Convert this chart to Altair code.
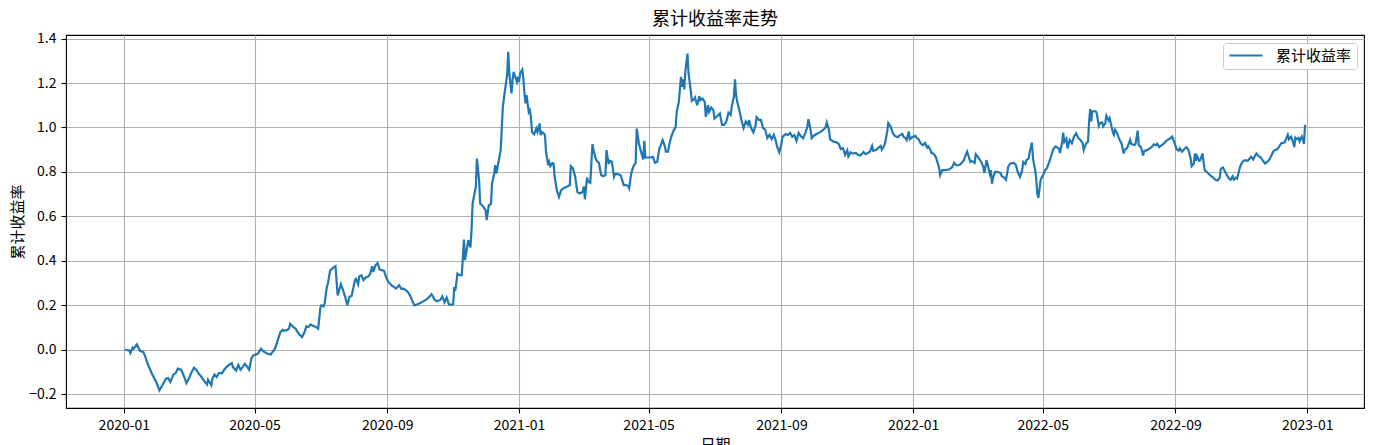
import altair as alt
import pandas as pd

# (date, cumulative return) pairs
points_2020 = [
    ("2020-01-02", 0.000), ("2020-01-06", -0.003), ("2020-01-07", -0.015), ("2020-01-09", 0.009),
    ("2020-01-10", 0.004), ("2020-01-13", 0.024), ("2020-01-16", -0.006), ("2020-01-19", -0.010),
    ("2020-01-21", -0.033), ("2020-01-23", -0.063), ("2020-01-27", -0.108), ("2020-01-31", -0.145),
    ("2020-02-03", -0.183), ("2020-02-06", -0.156), ("2020-02-09", -0.130), ("2020-02-11", -0.127),
    ("2020-02-13", -0.145), ("2020-02-16", -0.111), ("2020-02-18", -0.105), ("2020-02-20", -0.085),
    ("2020-02-23", -0.090), ("2020-02-24", -0.100), ("2020-02-26", -0.123), ("2020-02-28", -0.150),
    ("2020-03-02", -0.123), ("2020-03-03", -0.108), ("2020-03-06", -0.081), ("2020-03-08", -0.090),
    ("2020-03-10", -0.105), ("2020-03-13", -0.123), ("2020-03-15", -0.138), ("2020-03-18", -0.156),
    ("2020-03-19", -0.135), ("2020-03-22", -0.160), ("2020-03-23", -0.130), ("2020-03-25", -0.111),
    ("2020-03-27", -0.123), ("2020-03-29", -0.105), ("2020-04-01", -0.105), ("2020-04-03", -0.090),
    ("2020-04-05", -0.078), ("2020-04-08", -0.066), ("2020-04-10", -0.060), ("2020-04-11", -0.078),
    ("2020-04-14", -0.093), ("2020-04-16", -0.069), ("2020-04-18", -0.090), ("2020-04-20", -0.078),
    ("2020-04-22", -0.063), ("2020-04-24", -0.075), ("2020-04-26", -0.090), ("2020-04-27", -0.069),
    ("2020-04-28", -0.040), ("2020-04-30", -0.025), ("2020-05-04", -0.018), ("2020-05-07", 0.004),
    ("2020-05-09", -0.006), ("2020-05-13", -0.018), ("2020-05-16", -0.021), ("2020-05-20", 0.005),
    ("2020-05-23", 0.050), ("2020-05-25", 0.080), ("2020-05-27", 0.090), ("2020-05-28", 0.085),
    ("2020-05-31", 0.088), ("2020-06-02", 0.095), ("2020-06-03", 0.117), ("2020-06-06", 0.102),
    ("2020-06-08", 0.095), ("2020-06-11", 0.072), ("2020-06-14", 0.057), ("2020-06-16", 0.075),
    ("2020-06-18", 0.105), ("2020-06-20", 0.102), ("2020-06-22", 0.114), ("2020-06-24", 0.108),
    ("2020-06-27", 0.102), ("2020-06-29", 0.095), ("2020-07-01", 0.190), ("2020-07-02", 0.200),
    ("2020-07-04", 0.195), ("2020-07-05", 0.210), ("2020-07-07", 0.283), ("2020-07-08", 0.298),
    ("2020-07-10", 0.355), ("2020-07-12", 0.365), ("2020-07-13", 0.370), ("2020-07-15", 0.376),
    ("2020-07-17", 0.245), ("2020-07-18", 0.260), ("2020-07-20", 0.295), ("2020-07-22", 0.268),
    ("2020-07-24", 0.238), ("2020-07-26", 0.200), ("2020-07-28", 0.239), ("2020-07-30", 0.242),
    ("2020-08-02", 0.313), ("2020-08-03", 0.319), ("2020-08-05", 0.295), ("2020-08-06", 0.330),
    ("2020-08-08", 0.335), ("2020-08-10", 0.313), ("2020-08-12", 0.325), ("2020-08-14", 0.328),
    ("2020-08-16", 0.340), ("2020-08-18", 0.376), ("2020-08-19", 0.350), ("2020-08-21", 0.380),
    ("2020-08-23", 0.390), ("2020-08-25", 0.360), ("2020-08-27", 0.358), ("2020-08-29", 0.355),
    ("2020-08-31", 0.325), ("2020-09-02", 0.305), ("2020-09-05", 0.290), ("2020-09-07", 0.283),
    ("2020-09-09", 0.275), ("2020-09-12", 0.290), ("2020-09-14", 0.274), ("2020-09-16", 0.275),
    ("2020-09-18", 0.268), ("2020-09-20", 0.260), ("2020-09-22", 0.245), ("2020-09-24", 0.222),
    ("2020-09-26", 0.200), ("2020-09-29", 0.205), ("2020-10-02", 0.211), ("2020-10-05", 0.220),
    ("2020-10-08", 0.229), ("2020-10-10", 0.238), ("2020-10-12", 0.250), ("2020-10-15", 0.224),
    ("2020-10-17", 0.218), ("2020-10-20", 0.224), ("2020-10-22", 0.240), ("2020-10-24", 0.213),
    ("2020-10-26", 0.235), ("2020-10-28", 0.205), ("2020-10-30", 0.202), ("2020-11-01", 0.205),
    ("2020-11-02", 0.283), ("2020-11-03", 0.265), ("2020-11-05", 0.343), ("2020-11-07", 0.336),
    ("2020-11-09", 0.336), ("2020-11-11", 0.496), ("2020-11-12", 0.403), ("2020-11-14", 0.463),
    ("2020-11-15", 0.493), ("2020-11-17", 0.460), ("2020-11-18", 0.538), ("2020-11-19", 0.658),
    ("2020-11-22", 0.733), ("2020-11-23", 0.860), ("2020-11-25", 0.763), ("2020-11-26", 0.658),
    ("2020-11-29", 0.643), ("2020-12-01", 0.628), ("2020-12-02", 0.583), ("2020-12-04", 0.650),
    ("2020-12-06", 0.655), ("2020-12-07", 0.748), ("2020-12-09", 0.793), ("2020-12-10", 0.830),
    ("2020-12-11", 0.793), ("2020-12-13", 0.845), ("2020-12-15", 0.898), ("2020-12-16", 0.996),
    ("2020-12-17", 1.093), ("2020-12-19", 1.168), ("2020-12-21", 1.235), ("2020-12-22", 1.340),
    ("2020-12-23", 1.243), ("2020-12-25", 1.153), ("2020-12-26", 1.213), ("2020-12-27", 1.250),
    ("2020-12-28", 1.235), ("2020-12-30", 1.205), ("2020-12-31", 1.228),
]

points_2021 = [
    ("2021-01-01", 1.205), ("2021-01-02", 1.243), ("2021-01-04", 1.260), ("2021-01-05", 1.220),
    ("2021-01-06", 1.153), ("2021-01-07", 1.108), ("2021-01-08", 1.145), ("2021-01-10", 1.070),
    ("2021-01-11", 1.078), ("2021-01-12", 1.048), ("2021-01-13", 0.980), ("2021-01-15", 0.970),
    ("2021-01-17", 0.996), ("2021-01-18", 0.980), ("2021-01-20", 1.018), ("2021-01-21", 0.966),
    ("2021-01-22", 0.980), ("2021-01-24", 0.973), ("2021-01-25", 0.966), ("2021-01-26", 0.890),
    ("2021-01-28", 0.830), ("2021-01-29", 0.845), ("2021-01-30", 0.826), ("2021-02-01", 0.840),
    ("2021-02-02", 0.838), ("2021-02-03", 0.778), ("2021-02-05", 0.718), ("2021-02-07", 0.688),
    ("2021-02-09", 0.718), ("2021-02-11", 0.726), ("2021-02-14", 0.733), ("2021-02-17", 0.740),
    ("2021-02-18", 0.826), ("2021-02-20", 0.815), ("2021-02-22", 0.778), ("2021-02-24", 0.710),
    ("2021-02-26", 0.703), ("2021-03-01", 0.710), ("2021-03-02", 0.735), ("2021-03-03", 0.677),
    ("2021-03-05", 0.775), ("2021-03-06", 0.756), ("2021-03-08", 0.751), ("2021-03-10", 0.925),
    ("2021-03-11", 0.898), ("2021-03-13", 0.860), ("2021-03-14", 0.850), ("2021-03-16", 0.841),
    ("2021-03-18", 0.786), ("2021-03-20", 0.781), ("2021-03-22", 0.786), ("2021-03-23", 0.898),
    ("2021-03-25", 0.835), ("2021-03-26", 0.850), ("2021-03-28", 0.846), ("2021-03-30", 0.778),
    ("2021-03-31", 0.790), ("2021-04-02", 0.790), ("2021-04-05", 0.786), ("2021-04-06", 0.771),
    ("2021-04-08", 0.741), ("2021-04-10", 0.741), ("2021-04-12", 0.737), ("2021-04-13", 0.726),
    ("2021-04-15", 0.796), ("2021-04-17", 0.826), ("2021-04-19", 0.841), ("2021-04-20", 0.995),
    ("2021-04-22", 0.928), ("2021-04-24", 0.891), ("2021-04-26", 0.856), ("2021-04-27", 0.940),
    ("2021-04-28", 0.865), ("2021-04-30", 0.865), ("2021-05-03", 0.865), ("2021-05-05", 0.868),
    ("2021-05-07", 0.841), ("2021-05-09", 0.846), ("2021-05-11", 0.906), ("2021-05-12", 0.916),
    ("2021-05-14", 0.943), ("2021-05-16", 0.916), ("2021-05-17", 0.891), ("2021-05-19", 0.891),
    ("2021-05-20", 0.921), ("2021-05-22", 0.958), ("2021-05-24", 0.985), ("2021-05-26", 1.000),
    ("2021-05-27", 1.070), ("2021-05-29", 1.115), ("2021-05-31", 1.228), ("2021-06-01", 1.183),
    ("2021-06-02", 1.216), ("2021-06-03", 1.171), ("2021-06-04", 1.250), ("2021-06-06", 1.332),
    ("2021-06-07", 1.243), ("2021-06-09", 1.168), ("2021-06-10", 1.120), ("2021-06-12", 1.126),
    ("2021-06-13", 1.135), ("2021-06-15", 1.100), ("2021-06-17", 1.141), ("2021-06-18", 1.123),
    ("2021-06-20", 1.130), ("2021-06-22", 1.115), ("2021-06-23", 1.048), ("2021-06-25", 1.100),
    ("2021-06-26", 1.070), ("2021-06-28", 1.090), ("2021-06-30", 1.078), ("2021-07-01", 1.040),
    ("2021-07-03", 1.048), ("2021-07-06", 1.063), ("2021-07-08", 1.012), ("2021-07-10", 1.012),
    ("2021-07-12", 1.027), ("2021-07-14", 1.067), ("2021-07-16", 1.057), ("2021-07-17", 1.094),
    ("2021-07-19", 1.139), ("2021-07-20", 1.217), ("2021-07-21", 1.147), ("2021-07-22", 1.117),
    ("2021-07-24", 1.079), ("2021-07-26", 1.034), ("2021-07-28", 0.997), ("2021-07-30", 1.027),
    ("2021-08-01", 1.012), ("2021-08-02", 1.034), ("2021-08-04", 0.997), ("2021-08-06", 0.978),
    ("2021-08-08", 1.007), ("2021-08-09", 1.046), ("2021-08-11", 1.034), ("2021-08-13", 1.034),
    ("2021-08-15", 0.997), ("2021-08-17", 0.990), ("2021-08-19", 0.952), ("2021-08-21", 0.967),
    ("2021-08-23", 0.948), ("2021-08-25", 0.967), ("2021-08-27", 0.937), ("2021-08-28", 0.915),
    ("2021-08-30", 0.888), ("2021-09-01", 0.925), ("2021-09-02", 0.958), ("2021-09-05", 0.970),
    ("2021-09-07", 0.966), ("2021-09-09", 0.976), ("2021-09-11", 0.958), ("2021-09-13", 0.966),
    ("2021-09-15", 0.940), ("2021-09-17", 0.976), ("2021-09-19", 0.961), ("2021-09-21", 0.951),
    ("2021-09-23", 0.973), ("2021-09-25", 1.003), ("2021-09-26", 1.037), ("2021-09-28", 0.990),
    ("2021-09-29", 0.952), ("2021-10-01", 0.963), ("2021-10-04", 0.972), ("2021-10-07", 0.979),
    ("2021-10-10", 0.990), ("2021-10-12", 1.001), ("2021-10-13", 1.022), ("2021-10-15", 0.990),
    ("2021-10-16", 0.948), ("2021-10-19", 0.937), ("2021-10-22", 0.933), ("2021-10-24", 0.927),
    ("2021-10-26", 0.903), ("2021-10-28", 0.907), ("2021-10-30", 0.877), ("2021-11-01", 0.897),
    ("2021-11-02", 0.870), ("2021-11-04", 0.888), ("2021-11-06", 0.882), ("2021-11-09", 0.885),
    ("2021-11-11", 0.877), ("2021-11-13", 0.874), ("2021-11-15", 0.883), ("2021-11-16", 0.890),
    ("2021-11-18", 0.880), ("2021-11-20", 0.885), ("2021-11-22", 0.891), ("2021-11-24", 0.917),
    ("2021-11-25", 0.895), ("2021-11-28", 0.900), ("2021-11-30", 0.909), ("2021-12-02", 0.917),
    ("2021-12-03", 0.900), ("2021-12-05", 0.917), ("2021-12-06", 0.929), ("2021-12-08", 0.982),
    ("2021-12-09", 1.020), ("2021-12-11", 1.005), ("2021-12-13", 0.977), ("2021-12-15", 0.962),
    ("2021-12-18", 0.956), ("2021-12-19", 0.962), ("2021-12-22", 0.971), ("2021-12-23", 0.959),
    ("2021-12-25", 0.952), ("2021-12-26", 0.944), ("2021-12-28", 0.982), ("2021-12-29", 0.947),
    ("2021-12-31", 0.956),
]

points_2022 = [
    ("2022-01-03", 0.962), ("2022-01-04", 0.955), ("2022-01-06", 0.947), ("2022-01-08", 0.929),
    ("2022-01-10", 0.920), ("2022-01-12", 0.930), ("2022-01-14", 0.909), ("2022-01-15", 0.915),
    ("2022-01-17", 0.900), ("2022-01-18", 0.885), ("2022-01-20", 0.882), ("2022-01-22", 0.867),
    ("2022-01-25", 0.820), ("2022-01-26", 0.785), ("2022-01-28", 0.808), ("2022-01-31", 0.808),
    ("2022-02-03", 0.811), ("2022-02-06", 0.820), ("2022-02-08", 0.841), ("2022-02-10", 0.830),
    ("2022-02-12", 0.830), ("2022-02-14", 0.835), ("2022-02-17", 0.853), ("2022-02-18", 0.868),
    ("2022-02-20", 0.891), ("2022-02-21", 0.876), ("2022-02-23", 0.845), ("2022-02-24", 0.850),
    ("2022-02-27", 0.841), ("2022-02-28", 0.880), ("2022-03-02", 0.868), ("2022-03-05", 0.845),
    ("2022-03-07", 0.823), ("2022-03-08", 0.795), ("2022-03-10", 0.853), ("2022-03-11", 0.835),
    ("2022-03-13", 0.792), ("2022-03-14", 0.808), ("2022-03-15", 0.747), ("2022-03-16", 0.774),
    ("2022-03-18", 0.800), ("2022-03-20", 0.800), ("2022-03-23", 0.795), ("2022-03-24", 0.782),
    ("2022-03-26", 0.776), ("2022-03-28", 0.765), ("2022-03-29", 0.792), ("2022-03-30", 0.823),
    ("2022-04-01", 0.838), ("2022-04-04", 0.841), ("2022-04-06", 0.833), ("2022-04-08", 0.798),
    ("2022-04-10", 0.777), ("2022-04-12", 0.808), ("2022-04-13", 0.845), ("2022-04-15", 0.835),
    ("2022-04-16", 0.853), ("2022-04-18", 0.861), ("2022-04-19", 0.891), ("2022-04-21", 0.932),
    ("2022-04-22", 0.861), ("2022-04-24", 0.809), ("2022-04-25", 0.770), ("2022-04-26", 0.702),
    ("2022-04-27", 0.683), ("2022-04-29", 0.762), ("2022-04-30", 0.774), ("2022-05-02", 0.792),
    ("2022-05-03", 0.806), ("2022-05-05", 0.818), ("2022-05-07", 0.844), ("2022-05-09", 0.874),
    ("2022-05-11", 0.905), ("2022-05-13", 0.915), ("2022-05-16", 0.905), ("2022-05-17", 0.885),
    ("2022-05-19", 0.935), ("2022-05-20", 0.977), ("2022-05-21", 0.935), ("2022-05-23", 0.950),
    ("2022-05-24", 0.906), ("2022-05-26", 0.944), ("2022-05-28", 0.929), ("2022-05-30", 0.959),
    ("2022-06-01", 0.974), ("2022-06-03", 0.952), ("2022-06-05", 0.944), ("2022-06-07", 0.929),
    ("2022-06-08", 0.899), ("2022-06-10", 0.926), ("2022-06-11", 0.932), ("2022-06-12", 0.936),
    ("2022-06-13", 1.027), ("2022-06-14", 1.083), ("2022-06-15", 1.027), ("2022-06-16", 1.073),
    ("2022-06-19", 1.073), ("2022-06-20", 1.065), ("2022-06-22", 1.008), ("2022-06-23", 1.020),
    ("2022-06-25", 1.023), ("2022-06-26", 1.005), ("2022-06-28", 1.020), ("2022-06-29", 1.053),
    ("2022-07-01", 1.032), ("2022-07-02", 1.042), ("2022-07-03", 1.020), ("2022-07-05", 0.977),
    ("2022-07-06", 0.967), ("2022-07-07", 0.989), ("2022-07-09", 0.974), ("2022-07-10", 0.959),
    ("2022-07-12", 0.936), ("2022-07-13", 0.929), ("2022-07-15", 0.883), ("2022-07-16", 0.900),
    ("2022-07-18", 0.906), ("2022-07-19", 0.917), ("2022-07-21", 0.944), ("2022-07-22", 0.926),
    ("2022-07-25", 0.921), ("2022-07-26", 0.926), ("2022-07-28", 0.986), ("2022-07-29", 0.920),
    ("2022-07-31", 0.912), ("2022-08-02", 0.874), ("2022-08-03", 0.894), ("2022-08-05", 0.897),
    ("2022-08-08", 0.905), ("2022-08-10", 0.912), ("2022-08-12", 0.924), ("2022-08-14", 0.920),
    ("2022-08-15", 0.927), ("2022-08-17", 0.912), ("2022-08-19", 0.920), ("2022-08-21", 0.927),
    ("2022-08-24", 0.942), ("2022-08-27", 0.950), ("2022-08-29", 0.959), ("2022-08-31", 0.932),
    ("2022-09-02", 0.902), ("2022-09-04", 0.896), ("2022-09-05", 0.906), ("2022-09-07", 0.891),
    ("2022-09-09", 0.902), ("2022-09-11", 0.911), ("2022-09-13", 0.899), ("2022-09-15", 0.861),
    ("2022-09-16", 0.826), ("2022-09-18", 0.838), ("2022-09-19", 0.883), ("2022-09-20", 0.850),
    ("2022-09-21", 0.871), ("2022-09-23", 0.850), ("2022-09-24", 0.853), ("2022-09-26", 0.883),
    ("2022-09-28", 0.808), ("2022-10-01", 0.795), ("2022-10-03", 0.785), ("2022-10-06", 0.774),
    ("2022-10-08", 0.765), ("2022-10-10", 0.762), ("2022-10-12", 0.774), ("2022-10-13", 0.815),
    ("2022-10-15", 0.820), ("2022-10-17", 0.800), ("2022-10-18", 0.792), ("2022-10-20", 0.774),
    ("2022-10-22", 0.765), ("2022-10-24", 0.780), ("2022-10-25", 0.765), ("2022-10-27", 0.774),
    ("2022-10-28", 0.770), ("2022-10-30", 0.808), ("2022-10-31", 0.826), ("2022-11-02", 0.845),
    ("2022-11-04", 0.853), ("2022-11-07", 0.850), ("2022-11-08", 0.856), ("2022-11-10", 0.868),
    ("2022-11-12", 0.856), ("2022-11-14", 0.876), ("2022-11-15", 0.883), ("2022-11-17", 0.871),
    ("2022-11-19", 0.865), ("2022-11-21", 0.850), ("2022-11-23", 0.838), ("2022-11-25", 0.845),
    ("2022-11-27", 0.856), ("2022-11-29", 0.876), ("2022-12-01", 0.895), ("2022-12-04", 0.902),
    ("2022-12-06", 0.914), ("2022-12-08", 0.929), ("2022-12-11", 0.932), ("2022-12-12", 0.944),
    ("2022-12-14", 0.967), ("2022-12-15", 0.947), ("2022-12-17", 0.959), ("2022-12-19", 0.932),
    ("2022-12-20", 0.912), ("2022-12-21", 0.953), ("2022-12-22", 0.947), ("2022-12-24", 0.953),
    ("2022-12-25", 0.938), ("2022-12-27", 0.959), ("2022-12-28", 0.947), ("2022-12-29", 0.926),
    ("2022-12-30", 1.012),
]

series_name = "累计收益率"
tick_months = [(2020, 1), (2020, 5), (2020, 9), (2021, 1), (2021, 5), (2021, 9),
               (2022, 1), (2022, 5), (2022, 9), (2023, 1)]
y_ticks = [-0.2, 0.0, 0.2, 0.4, 0.6, 0.8, 1.0, 1.2, 1.4]

rows = points_2020 + points_2021 + points_2022
df = pd.DataFrame(rows, columns=["date", "value"])
df["series"] = series_name

FONT = "Noto Sans CJK SC"

x_domain = [alt.DateTime(year=2019, month=11, date=8, hours=10, utc=True),
            alt.DateTime(year=2023, month=2, date=22, hours=14, utc=True)]
x_values = [alt.DateTime(year=y, month=m, date=1, utc=True) for y, m in tick_months]

chart = alt.Chart(df).mark_line(strokeWidth=2.2).encode(
    x=alt.X("date:T",
            scale=alt.Scale(type="utc", domain=x_domain),
            axis=alt.Axis(values=x_values,
                          labelExpr="utcFormat(datum.value, '%Y-%m')",
                          title="日期", titleX=649, titleY=29, titleBaseline="top",
                          titleAlign="center", labelFontSize=14, labelFlush=False,
                          labelOverlap=False)),
    y=alt.Y("value:Q",
            scale=alt.Scale(domain=[-0.262, 1.416], nice=False, zero=False),
            axis=alt.Axis(values=y_ticks, format=".1f", title="累计收益率",
                          titleX=-49, titleY=186.5, titleAngle=270,
                          titleBaseline="middle", titleAlign="center",
                          labelFontSize=14)),
    color=alt.Color("series:N",
                    scale=alt.Scale(domain=[series_name], range=["#1f77b4"]),
                    legend=alt.Legend(title=None, orient="none", legendX=1157, legendY=8,
                                      symbolType="M-1,0H4.5", symbolSize=144,
                                      symbolStrokeWidth=2.2, labelOffset=33,
                                      labelFont=FONT, labelFontSize=15,
                                      labelColor="#000000",
                                      padding=5, fillColor="#ffffff",
                                      strokeColor="#cccccc", cornerRadius=3)),
).properties(
    width=1298,
    height=373,
    title=alt.TitleParams("累计收益率走势", font=FONT, fontSize=18,
                          fontWeight="normal", color="#000000", anchor="middle",
                          offset=3),
    padding={"left": 58, "top": 27, "right": 16, "bottom": 37},
    autosize=alt.AutoSizeParams(type="none"),
).configure_axis(
    labelFont=FONT,
    labelColor="#000000",
    titleFont=FONT,
    titleFontSize=15,
    titleFontWeight="normal",
    titleColor="#000000",
    tickColor="#000000",
    tickSize=5,
    tickWidth=1.1,
    labelPadding=5,
    domain=False,
    grid=True,
    gridColor="#b0b0b0",
    gridWidth=1.1,
).configure_view(
    stroke="#000000",
    strokeWidth=1.1,
)

chart.save("out.html", embed_options={"renderer": "svg", "actions": False})
